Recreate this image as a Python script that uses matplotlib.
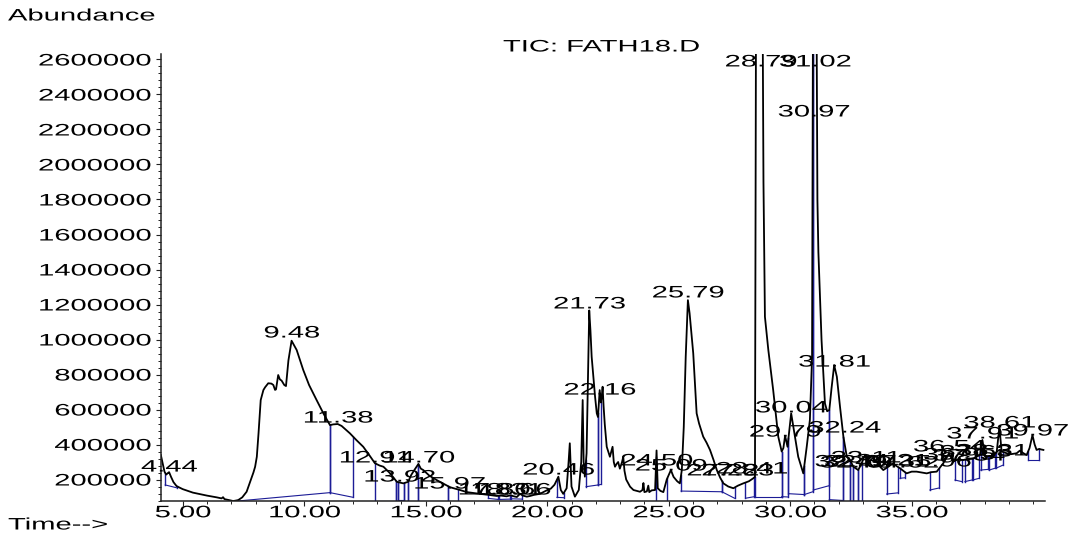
import numpy as np
import matplotlib
matplotlib.use("Agg")
import matplotlib.pyplot as plt
from matplotlib import patheffects
from matplotlib.transforms import Affine2D
from matplotlib.ticker import MultipleLocator, FuncFormatter

# ---------------- data ----------------
# total ion chromatogram: retention time (min) and abundance (thousands of counts)
rt = [4.10, 4.18, 4.25, 4.32, 4.40, 4.44, 4.52, 4.62, 4.75, 5.00, 5.42, 6.00, 6.40, 6.60,
      6.66, 6.72, 7.08, 7.28, 7.45, 7.63, 7.77, 7.91, 7.98, 8.05, 8.12, 8.21, 8.32, 8.39,
      8.52, 8.65, 8.73, 8.80, 8.84, 8.93, 9.00, 9.07, 9.18, 9.25, 9.35, 9.48, 9.55, 9.69,
      9.96, 10.20, 10.51, 10.80, 11.06, 11.20, 11.38, 11.54, 11.88, 12.15, 12.43, 12.70,
      12.91, 13.10, 13.26, 13.53, 13.81, 13.92, 14.08, 14.28, 14.40, 14.49, 14.70, 14.80,
      14.90, 15.15, 15.45, 16.00, 16.41, 16.69, 17.23, 17.60, 17.92, 18.10, 18.33, 18.50,
      18.60, 18.75, 18.88, 19.00, 19.16, 19.30, 19.45, 19.70, 19.98, 20.15, 20.30, 20.46,
      20.56, 20.66, 20.80, 20.88, 20.93, 21.00, 21.14, 21.30, 21.40, 21.46, 21.50, 21.55,
      21.62, 21.68, 21.73, 21.78, 21.83, 21.97, 22.04, 22.09, 22.13, 22.16, 22.21, 22.25,
      22.28, 22.32, 22.37, 22.45, 22.58, 22.64, 22.69, 22.74, 22.79, 22.86, 22.92, 22.99,
      23.08, 23.13, 23.18, 23.25, 23.41, 23.55, 23.82, 23.92, 23.96, 24.00, 24.10, 24.16,
      24.20, 24.30, 24.44, 24.50, 24.55, 24.66, 24.78, 24.92, 25.09, 25.20, 25.35, 25.46,
      25.54, 25.62, 25.70, 25.79, 25.86, 26.01, 26.08, 26.15, 26.25, 26.42, 26.56, 26.70,
      26.85, 26.98, 27.12, 27.25, 27.45, 27.66, 27.85, 28.07, 28.30, 28.48, 28.55, 28.60,
      28.79, 28.85, 28.90, 28.96, 29.10, 29.30, 29.51, 29.65, 29.72, 29.79, 29.89, 30.04,
      30.13, 30.33, 30.54, 30.68, 30.81, 30.90, 30.94, 31.02, 31.08, 31.12, 31.16, 31.29,
      31.43, 31.52, 31.61, 31.70, 31.81, 31.92, 32.05, 32.19, 32.33, 32.46, 32.60, 32.80,
      32.94, 33.08, 33.21, 33.42, 33.63, 33.83, 34.04, 34.20, 34.31, 34.52, 34.79, 35.00,
      35.20, 35.40, 35.62, 35.80, 36.03, 36.30, 36.54, 36.71, 36.90, 37.12, 37.30, 37.54,
      37.81, 37.91, 38.02, 38.20, 38.36, 38.50, 38.61, 38.70, 38.91, 39.10, 39.32, 39.45,
      39.60, 39.73, 39.85, 39.97, 40.06, 40.14, 40.25, 40.32, 40.42]
abundance_k = [340, 290, 245, 228, 238, 242, 215, 185, 162, 145, 125, 108, 98, 92,
               99, 88, 77, 82, 98, 130, 185, 240, 273, 330, 464, 654, 711, 727,
               750, 748, 740, 712, 715, 797, 772, 765, 740, 734, 880, 993, 975, 940,
               826, 740, 654, 575, 511, 515, 517, 506, 464, 425, 387, 335,
               293, 280, 273, 236, 187, 183, 178, 187, 225, 245, 289, 262,
               254, 222, 197, 156, 140, 128, 118, 112, 106, 108, 104, 110,
               105, 100, 118, 108, 102, 106, 112, 118, 138, 148, 170, 216,
               140, 118, 150, 300, 407, 160, 102, 140, 300, 654, 300, 216,
               350, 800, 1166, 1050, 901, 673, 578, 557, 650, 711, 640, 680,
               730, 620, 514, 387, 330, 360, 387, 300, 273, 290, 300, 262,
               300, 330, 250, 200, 159, 140, 130, 140, 180, 128, 132, 165,
               128, 138, 140, 366, 150, 135, 128, 200, 254, 215, 190, 178,
               254, 500, 900, 1225, 1150, 921, 750, 578, 520, 445, 410, 369,
               310, 254, 210, 178, 160, 150, 165, 178, 190, 207, 215, 3300,
               4200, 3300, 1900, 1130, 940, 711, 444, 360, 380, 450, 387, 578,
               502, 330, 235, 387, 540, 900, 3000, 4800, 3000, 1800, 1500, 997,
               635, 590, 597, 720, 854, 787, 616, 444, 330, 311, 273, 254,
               293, 340, 302, 273, 283, 254, 273, 290, 283, 264, 235, 245,
               245, 240, 235, 242, 245, 293, 350, 302, 315, 311, 318, 321,
               340, 426, 330, 335, 330, 360, 500, 360, 350, 345, 350, 365,
               350, 340, 380, 454, 400, 369, 375, 372, 369]

# integration baselines: start rt, start level, end rt, end level (thousands)
base_t0 = [4.28, 7.25, 11.06, 12.91, 13.78, 13.87, 14.11, 14.26, 14.70, 15.90, 17.58, 18.02,
           18.50, 20.40, 21.60, 22.10, 24.49, 25.51, 27.19, 28.16, 28.55, 29.65, 29.93, 30.58,
           30.95, 31.61, 32.19, 32.46, 32.60, 32.80, 33.97, 34.52, 35.75, 36.78, 37.19, 37.51,
           37.84, 38.19, 38.46, 39.80]
base_b0 = [169, 77, 125, 80, 80, 85, 80, 80, 80, 80, 92, 86,
           90, 98, 159, 169, 80, 134, 130, 93, 102, 102, 119, 114,
           140, 85, 80, 80, 80, 80, 117, 207, 140, 197, 188, 197,
           254, 254, 264, 311]
base_t1 = [4.77, 11.06, 12.02, 13.78, 13.87, 14.11, 14.26, 14.70, 15.90, 16.34, 17.99, 18.47,
           18.95, 20.69, 22.10, 22.22, 24.94, 27.19, 27.71, 28.53, 29.65, 29.93, 30.58, 30.95,
           31.61, 32.19, 32.46, 32.60, 32.80, 32.94, 34.45, 34.72, 36.14, 37.06, 37.47, 37.78,
           38.15, 38.42, 38.77, 40.25]
base_b1 = [152, 125, 98, 80, 80, 85, 80, 80, 80, 80, 86, 88,
           88, 96, 169, 172, 80, 130, 93, 102, 102, 100, 114, 131,
           165, 80, 80, 80, 80, 80, 124, 210, 152, 188, 197, 207,
           258, 264, 283, 311]

# peak annotations: retention time and the height of the label (thousands)
peak_rt = [4.44, 9.48, 11.38, 12.91, 13.92, 14.70, 15.97, 17.80, 18.31, 18.66, 20.46,
           21.73, 22.16, 24.50, 25.09, 25.79, 27.22, 27.83, 28.41, 28.79, 29.79, 30.04,
           30.97, 31.02, 31.81, 32.24, 32.49, 32.70, 32.87, 33.11, 34.21, 34.62, 35.96,
           36.54, 36.95, 37.34, 37.63, 37.91, 38.31, 38.61, 39.97]
peak_label_k = [271, 1037, 551, 323, 214, 323, 174, 140, 140, 140, 254,
                1203, 711, 306, 277, 1266, 249, 249, 260, 2586, 471, 609,
                2300, 2586, 871, 494, 300, 294, 300, 323, 306, 294, 300,
                386, 340, 334, 357, 460, 363, 523, 477]

x_major = [5, 10, 15, 20, 25, 30, 35]
y_major = [200000, 400000, 600000, 800000, 1000000, 1200000, 1400000,
           1600000, 1800000, 2000000, 2200000, 2400000, 2600000]


# ---------------- helpers ----------------
class HStretch(patheffects.AbstractPathEffect):
    """Draw text glyphs widened horizontally about an anchor."""

    def __init__(self, sx, anchor="center"):
        super().__init__()
        self._sx = sx
        self._anchor = anchor

    def draw_path(self, renderer, gc, tpath, affine, rgbFace=None):
        v = tpath.vertices
        if len(v) == 0:
            return
        x0, x1 = v[:, 0].min(), v[:, 0].max()
        ref = {"left": 0.0, "right": x1, "center": 0.5 * (x0 + x1)}[self._anchor]
        stretch = Affine2D().translate(-ref, 0).scale(self._sx, 1.0).translate(ref, 0)
        renderer.draw_path(gc, tpath, stretch + affine, rgbFace)


SX = 1.75
FONT = "Liberation Sans"
FS = 12

plt.rcParams["font.family"] = [FONT, "DejaVu Sans"]

W, H = 1069, 534
fig = plt.figure(figsize=(W / 100, H / 100), dpi=100)
ax_l, ax_r, ax_b, ax_t = 160.5, 1045.0, 500.7, 54.0
ax = fig.add_axes([ax_l / W, 1 - ax_b / H, (ax_r - ax_l) / W, (ax_b - ax_t) / H])

t = np.array(rt)
a = np.array(abundance_k) * 1000.0

# integration baselines with their drop lines
navy = "#1c1c96"
for t0, b0, t1, b1 in zip(base_t0, base_b0, base_t1, base_b1):
    y0, y1 = b0 * 1000.0, b1 * 1000.0
    top0 = np.interp(t0, t, a)
    top1 = np.interp(t1, t, a)
    ax.plot([t0, t1], [y0, y1], color=navy, lw=0.8, zorder=1.5)
    ax.plot([t0, t0], [y0, top0], color=navy, lw=1.0, zorder=1.5)
    ax.plot([t1, t1], [y1, top1], color=navy, lw=1.0, zorder=1.5)

ax.plot(t, a, color="black", lw=1.3, zorder=2)

ax.set_xlim(4.086, 40.486)
ax.set_ylim(78900, 2631400)

for s in ("top", "right"):
    ax.spines[s].set_visible(False)
for s in ("left", "bottom"):
    ax.spines[s].set_linewidth(1.1)
    ax.spines[s].set_color("#222222")

ax.set_xticks(x_major)
ax.xaxis.set_major_formatter(FuncFormatter(lambda v, p: f"{v:.2f}"))
ax.xaxis.set_minor_locator(MultipleLocator(1))
ax.set_yticks(y_major)
ax.yaxis.set_major_formatter(FuncFormatter(lambda v, p: f"{int(round(v))}"))
ax.yaxis.set_minor_locator(MultipleLocator(40000))
ax.tick_params(axis="both", which="major", direction="out", length=3.8, width=0.8,
               labelsize=FS, color="#222222")
ax.tick_params(axis="both", which="minor", direction="out", length=2.4, width=0.7,
               color="#222222")
ax.tick_params(axis="x", which="major", pad=-0.5)
ax.tick_params(axis="y", which="major", pad=3.0)

# peak retention-time labels
for prt, ly in zip(peak_rt, peak_label_k):
    ax.text(prt, ly * 1000.0, f"{prt:.2f}", ha="center", va="center",
            fontsize=FS, color="black", zorder=3,
            path_effects=[HStretch(SX, "center")])

fig.text(8 / W, 1 - 16 / H, "Abundance", ha="left", va="center", fontsize=FS,
         path_effects=[HStretch(SX, "left")])
fig.text(8 / W, 1 - 525 / H, "Time-->", ha="left", va="center", fontsize=FS,
         path_effects=[HStretch(SX, "left")])
fig.text(601 / W, 1 - 47 / H, "TIC: FATH18.D", ha="center", va="center", fontsize=FS,
         path_effects=[HStretch(SX, "center")])

fig.canvas.draw()
for lab in ax.get_xticklabels():
    lab.set_path_effects([HStretch(SX, "center")])
for lab in ax.get_yticklabels():
    lab.set_path_effects([HStretch(SX, "right")])

fig.savefig("out.png", dpi=100)
